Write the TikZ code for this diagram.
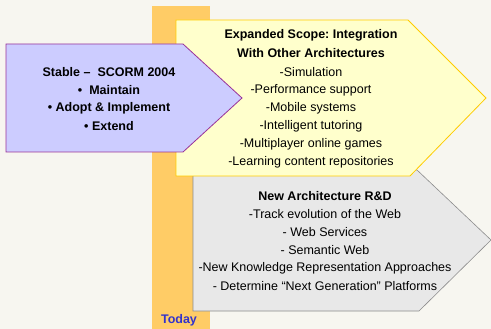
\documentclass[tikz,border=0pt]{standalone}
\usepackage{fontspec}
\setmainfont{Liberation Sans}
\frenchspacing
\definecolor{bg}{HTML}{F7F6F0}
\definecolor{barorange}{HTML}{FFCC66}
\definecolor{purfill}{HTML}{CCCCFF}
\definecolor{purline}{HTML}{993399}
\definecolor{yelfill}{HTML}{FFFFCC}
\definecolor{yelline}{HTML}{FFCC00}
\definecolor{grfill}{HTML}{E8E8E8}
\definecolor{grline}{HTML}{8C8C8C}
\definecolor{todayblue}{HTML}{3333CC}
\tikzset{
  txt/.style={font=\fontsize{12.5}{14}\selectfont\frenchspacing, inner sep=0pt, anchor=center},
  btxt/.style={txt, font=\fontsize{12.5}{14}\selectfont\bfseries\frenchspacing},
}
\begin{document}
\begin{tikzpicture}[x=1pt,y=-1pt]
\fill[bg] (0,0) rectangle (491,329);
\useasboundingbox (0,0) rectangle (491,329);
% orange bar
\fill[barorange] (152,6) rectangle (210,329);
% gray arrow
\draw[fill=grfill, draw=grline, line width=0.6pt] (193,170) -- (417,170) -- (491,240) -- (419,311) -- (193,311) -- cycle;
% yellow arrow
\draw[fill=yelfill, draw=yelline, line width=0.8pt] (176,20) -- (408,20) -- (486,98) -- (410,176) -- (176,176) -- cycle;
% purple arrow
\draw[fill=purfill, draw=purline, line width=0.8pt] (6,44) -- (183,44) -- (242,98) -- (183,152) -- (6,152) -- cycle;

% purple text
\node[btxt] (p1) at (109,72) {Stable –\ \ SCORM 2004};
\node[btxt] (p2) at (109,90) {•\ \ Maintain};
\node[btxt] (p3) at (109,108) {• Adopt \& Implement};
\node[btxt] (p4) at (109,126) {• Extend};

% yellow text
\node[btxt] (y1) at (311,35) {Expanded Scope: Integration};
\node[btxt] (y2) at (311,53) {With Other Architectures};
\node[txt] (y3) at (311,72) {-Simulation};
\node[txt] (y4) at (311,90) {-Performance support};
\node[txt] (y5) at (311,108) {-Mobile systems};
\node[txt] (y6) at (311,126) {-Intelligent tutoring};
\node[txt] (y7) at (311,144) {-Multiplayer online games};
\node[txt] (y8) at (311,162) {-Learning content repositories};

% gray text
\node[btxt] (g1) at (325,196) {New Architecture R\&D};
\node[txt] (g2) at (325,214) {-Track evolution of the Web};
\node[txt] (g3) at (325,232) {- Web Services};
\node[txt] (g4) at (325,250) {- Semantic Web};
\node[txt] (g5) at (325,268) {-New Knowledge Representation Approaches};
\node[txt] (g6) at (325,286) {- Determine “Next Generation” Platforms};

% today
\node[btxt, text=todayblue] (today) at (179,320) {Today};
\end{tikzpicture}
\end{document}
